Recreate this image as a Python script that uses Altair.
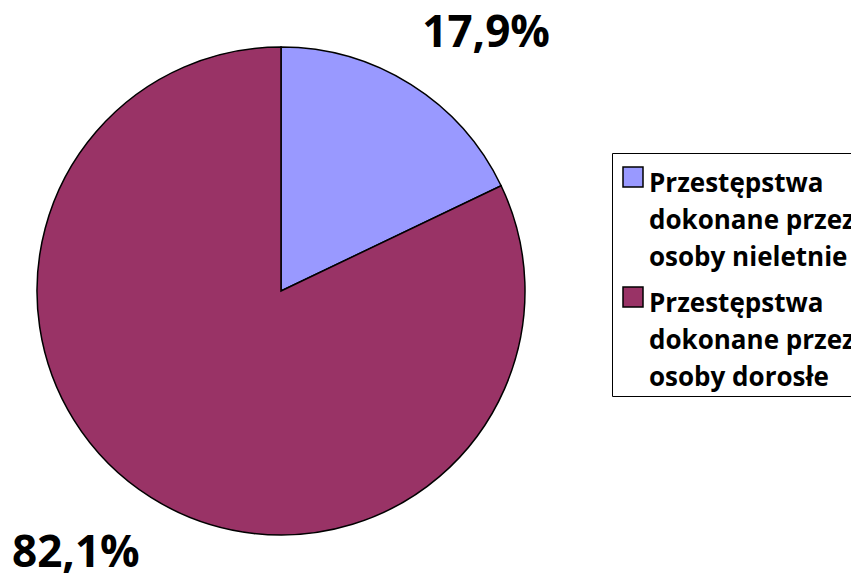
import altair as alt
import pandas as pd

categories = ["Przestępstwa|dokonane przez|osoby nieletnie",
              "Przestępstwa|dokonane przez|osoby dorosłe"]
values = [17.9, 82.1]
labels = ["17,9%", "82,1%"]
colors = ["#9999FF", "#993366"]
order = [0, 1]

df = pd.DataFrame({"cat": categories, "val": values, "lab": labels, "ord": order})

base = alt.Chart(df).encode(
    theta=alt.Theta("val:Q", stack=True),
    order=alt.Order("ord:Q"),
)

pie = base.mark_arc(outerRadius=244, stroke="black", strokeWidth=1.5).encode(
    color=alt.Color(
        "cat:N",
        scale=alt.Scale(domain=categories, range=colors),
        sort=categories,
        legend=alt.Legend(
            title=None,
            orient="none",
            legendX=604,
            legendY=135,
            labelExpr="split(datum.label, '|')",
            symbolType="M-0.7,-0.4H1.3V1.6H-0.7Z",
            symbolSize=400,
            symbolStrokeColor="black",
            symbolStrokeWidth=1.5,
            labelFont="Open Sans",
            labelFontWeight="bold",
            labelFontSize=26,
            labelColor="black",
            labelLimit=600,
            labelBaseline="top",
            labelOffset=6,
            strokeColor="black",
            fillColor="white",
            padding=5,
            rowPadding=7,
        ),
    )
)

text = base.mark_text(
    radius=331, thetaOffset=0.106, dy=3, font="Open Sans", fontWeight="bold", fontSize=44,
    color="black", align="center", baseline="middle",
).encode(text="lab:N")

chart = (pie + text).properties(
    width=546, height=546,
    padding={"left": 0, "top": 10, "right": 297, "bottom": 9},
    autosize=alt.AutoSizeParams(type="none"),
).configure_view(stroke=None).configure_legend(strokeWidth=1.5).configure(
    style={"guide-label": {"lineHeight": 37}}
)

chart.save("out.html", embed_options={"renderer": "svg", "actions": False})
